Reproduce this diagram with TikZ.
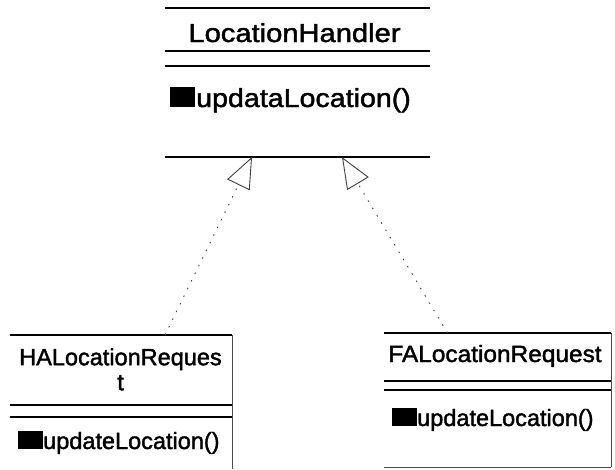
\documentclass[tikz,border=0pt]{standalone}
\usepackage{fontspec}
\setmainfont{Liberation Sans}
\newfontfamily\umlface{Liberation Sans}[FakeBold=1.6]
\usetikzlibrary{positioning,arrows.meta,calc}
\newcommand{\umlfont}{\umlface\fontsize{26pt}{28pt}\selectfont}
\newcommand{\subfont}{\umlface\fontsize{23.5pt}{25pt}\selectfont}
\newcommand{\wide}[2][1.12]{\scalebox{#1}[1]{#2}}
\tikzset{
  classbox/.style={rectangle,inner sep=0pt,outer sep=0pt},
  hline/.style={line width=1.2pt},
  side/.style={line width=0.6pt,black!70},
  clsname/.style={font=\umlfont,inner sep=0pt,align=center},
  subname/.style={clsname,font=\subfont},
  method/.style={font=\umlfont,inner sep=0pt},
  submethod/.style={method,font=\subfont},
  opmark/.style={fill=black,inner sep=0pt,minimum width=25pt,minimum height=20pt},
  subopmark/.style={opmark,minimum height=18pt},
  realize/.style={line width=0.9pt,black!75,dash pattern=on 1.5pt off 7pt,
    -{Triangle[open,length=31pt,width=25pt,line width=0.9pt]}}
}
\begin{document}
\begin{tikzpicture}[x=1pt,y=-1pt]
  \useasboundingbox (0,0) rectangle (615,469);

  % LocationHandler
  \node[classbox,minimum width=265pt,minimum height=149pt] (handler) at (297.5,82.5) {};
  \draw[hline] (handler.north west) -- (handler.north east);
  \draw[hline] ([yshift=-43pt]handler.north west) -- ([yshift=-43pt]handler.north east);
  \draw[hline] ([yshift=-58pt]handler.north west) -- ([yshift=-58pt]handler.north east);
  \draw[hline] (handler.south west) -- (handler.south east);
  \node[clsname,anchor=base] (hName) at (294.5,42) {\wide{LocationHandler}};
  \node[method,anchor=base west] (hMeth) at (196,107) {\wide[1.1]{updataLocation()}};
  \node[opmark,left=1pt of hMeth.base west,anchor=south east] (hMark) {};

  % HALocationRequest
  \node[classbox,minimum width=222pt,minimum height=134pt] (haReq) at (121,402) {};
  \draw[hline] (haReq.north west) -- (haReq.north east);
  \draw[side] (haReq.north east) -- (haReq.south east);
  \draw[hline] ([yshift=-70pt]haReq.north west) -- ([yshift=-70pt]haReq.north east);
  \draw[hline] ([yshift=-82pt]haReq.north west) -- ([yshift=-82pt]haReq.north east);
  \node[subname,anchor=north] (haName) at (120.5,348) {HALocationReques\\ t};
  \node[submethod,anchor=base west] (haMeth) at (43,449) {updateLocation()};
  \node[subopmark,left=0pt of haMeth.base west,anchor=south east] (haMark) {};

  % FALocationRequest
  \node[classbox,minimum width=227pt,minimum height=134pt] (faReq) at (497.5,400) {};
  \draw[hline] (faReq.north west) -- (faReq.north east);
  \draw[side] (faReq.north east) -- (faReq.south east);
  \draw[side] (faReq.south west) -- (faReq.south east);
  \draw[hline] ([yshift=-48pt]faReq.north west) -- ([yshift=-48pt]faReq.north east);
  \draw[hline] ([yshift=-57pt]faReq.north west) -- ([yshift=-57pt]faReq.north east);
  \node[subname,anchor=base] (faName) at (495,362) {\wide[1.04]{FALocationRequest}};
  \node[submethod,anchor=base west] (faMeth) at (417,426) {updateLocation()};
  \node[subopmark,left=0pt of faMeth.base west,anchor=south east] (faMark) {};

  % realizations
  \draw[realize] ([xshift=44pt]haReq.north) -- ([xshift=-45.5pt]handler.south);
  \draw[realize] ([xshift=-50pt]faReq.north) -- ([xshift=44.5pt]handler.south);
\end{tikzpicture}
\end{document}
